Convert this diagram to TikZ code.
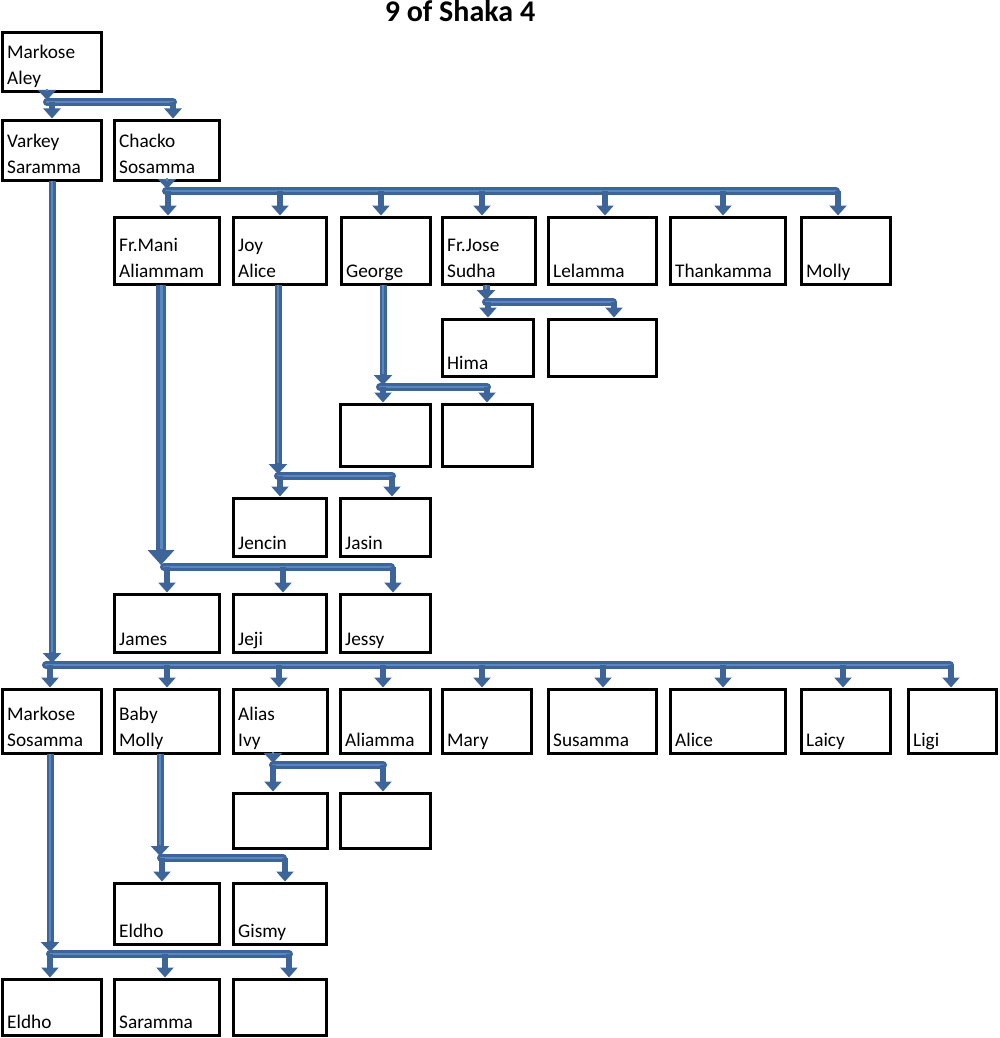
\documentclass[tikz,border=0pt]{standalone}
\usepackage{fontspec}
\setmainfont{Carlito}
\usetikzlibrary{arrows.meta,calc}
\definecolor{cone}{HTML}{3D6599}
\definecolor{ctwo}{HTML}{5A87BF}
\tikzset{
  pbox/.style={draw=black, line width=3pt, anchor=north west, inner sep=0pt, outer sep=0pt, fill=white},
  txt/.style={anchor=south west, inner sep=0pt, align=left, text depth=5pt,
    font=\fontsize{19.3}{26}\selectfont},
  barline/.style={draw=cone, line width=8pt, line cap=round,
    postaction={draw=ctwo, line width=2.5pt}},
  stemline/.style={draw=cone, line width=7pt, -{Triangle[width=18pt,length=10pt]},
    postaction={draw=ctwo, line width=2pt, arrows=-, shorten >=11pt}},
  bigstem/.style={draw=cone, line width=10pt, -{Triangle[width=26pt,length=15pt]},
    postaction={draw=ctwo, line width=3pt, arrows=-, shorten >=16pt}},
  kidline/.style={draw=cone, line width=6pt, -{Triangle[width=17pt,length=10pt]}, shorten >=2pt},
}
% box: name, x1, y1, x2, y2, text
\newcommand\pbx[6]{%
  \node[pbox, minimum width={(#4-#2-3)*1pt}, minimum height={(#5-#3-3)*1pt}]
    (#1) at (#2+1.5,#3+1.5) {};
  \node[txt] (#1-t) at ($(#1.south west)+(4.5,-1.5)$) {#6};
}
% family: [stem style] parent, stem x, bar y, bar left, bar right, kids list
\newcommand\family[7][stemline]{%
  \coordinate (#2-bl) at (#5,#4);
  \coordinate (#2-br) at (#6,#4);
  \draw[barline] (#2-bl) -- (#2-br);
  \foreach \c/\x in {#7} \draw[kidline] (\x,#4) -- (\c.north -| \x,0);
  \draw[#1] (#2.south -| #3,0) -- (#3,#4-2);
}
\begin{document}
\begin{tikzpicture}[x=1pt,y=-1pt]
\useasboundingbox (0,0) rectangle (1000,1038);
\node[anchor=base, inner sep=0pt, font=\bfseries\fontsize{30}{34}\selectfont] (title) at (460,22) {9 of Shaka 4};

\pbx{ma}{1}{31}{103}{93}{Markose\\Aley}
\pbx{vs}{1}{119}{103}{182}{Varkey\\Saramma}
\pbx{cs}{113}{119}{221}{182}{Chacko\\Sosamma}

\pbx{fm}{113}{216}{221}{286}{Fr.Mani\\Aliammam}
\pbx{ja}{232}{216}{328}{286}{Joy\\Alice}
\pbx{ge}{340}{216}{432}{286}{George}
\pbx{fj}{441}{216}{537}{286}{Fr.Jose\\Sudha}
\pbx{le}{547}{216}{658}{286}{Lelamma}
\pbx{th}{669}{216}{787}{286}{Thankamma}
\pbx{mo}{800}{216}{892}{286}{Molly}

\pbx{hi}{441}{318}{535}{378}{Hima}
\pbx{ea}{547}{318}{658}{378}{}

\pbx{eb}{339}{403}{432}{468}{}
\pbx{ec}{441}{403}{534}{468}{}

\pbx{jc}{232}{497}{328}{558}{Jencin}
\pbx{js}{339}{497}{432}{558}{Jasin}

\pbx{jm}{113}{593}{221}{654}{James}
\pbx{jj}{232}{593}{328}{654}{Jeji}
\pbx{jy}{339}{593}{432}{654}{Jessy}

\pbx{ms}{1}{688}{103}{755}{Markose\\Sosamma}
\pbx{bm}{113}{688}{221}{755}{Baby\\Molly}
\pbx{ai}{232}{688}{329}{755}{Alias\\Ivy}
\pbx{al}{339}{688}{432}{755}{Aliamma}
\pbx{mr}{441}{688}{533}{755}{Mary}
\pbx{su}{547}{688}{658}{755}{Susamma}
\pbx{ac}{669}{688}{787}{755}{Alice}
\pbx{lc}{800}{688}{892}{755}{Laicy}
\pbx{lg}{907}{688}{998}{755}{Ligi}

\pbx{ed}{232}{792}{329}{850}{}
\pbx{ee}{339}{792}{432}{850}{}

\pbx{el}{113}{882}{221}{946}{Eldho}
\pbx{gi}{232}{882}{328}{946}{Gismy}

\pbx{eo}{1}{978}{103}{1037}{Eldho}
\pbx{sa}{113}{978}{221}{1037}{Saramma}
\pbx{ef}{232}{978}{328}{1037}{}

\family{ma}{47}{102}{47}{173}{vs/52,cs/173}
\family{cs}{167}{191}{166}{836}{fm/168,ja/280,ge/381,fj/482,le/605,th/723,mo/838}
\family{fj}{486}{302}{486}{613}{hi/488,ea/614}
\family{ge}{383}{387}{380}{487}{eb/383,ec/487}
\family{ja}{278}{476}{278}{392}{jc/280,js/392}
\family[bigstem]{fm}{161}{567}{164}{391}{jm/167,jj/283,jy/393}
\family{vs}{52}{665}{46}{950}{ms/50,bm/167,ai/279,al/383,mr/482,su/603,ac/723,lc/843,lg/951}
\family{ai}{273}{765}{273}{383}{ed/273,ee/383}
\family{bm}{160}{858}{161}{283}{el/162,gi/285}
\family{ms}{50}{954}{50}{289}{eo/50,sa/165,ef/289}
\end{tikzpicture}
\end{document}
